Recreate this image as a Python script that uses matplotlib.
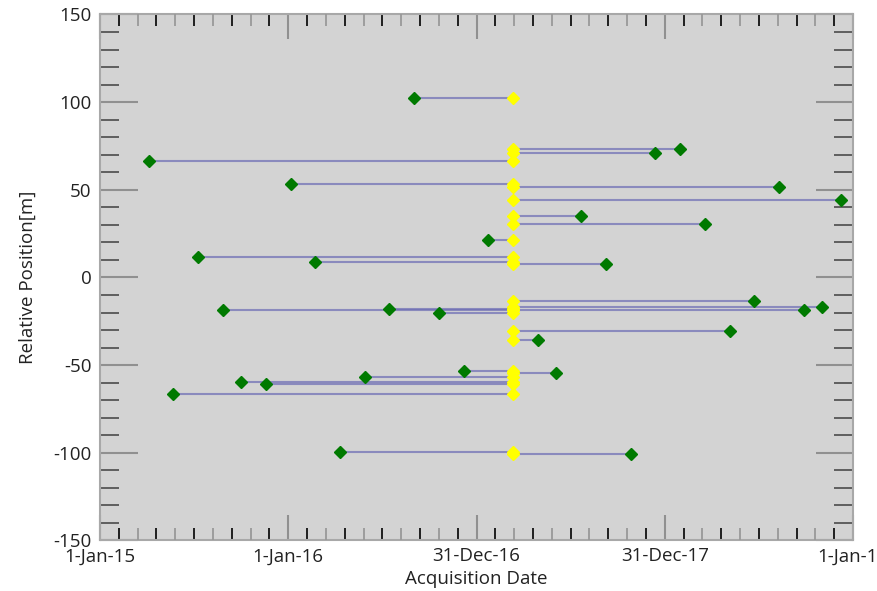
import numpy as np
import pandas as pd
import matplotlib
matplotlib.use('Agg')
import matplotlib.pyplot as plt
import matplotlib.dates as mdates
from matplotlib.ticker import FixedLocator, NullFormatter

plt.rcParams['font.family'] = ['Open Sans', 'DejaVu Sans']
plt.rcParams['axes.unicode_minus'] = False

# reference (master) acquisition, all pairs join to it
ref_date = '2017-03-12'

# secondary acquisitions and their relative position [m]
sec_dates = ['2016-09-02', '2018-01-30', '2017-12-13', '2015-04-06', '2016-01-06',
             '2018-08-10', '2018-12-08', '2017-07-23', '2018-03-19', '2017-01-22',
             '2015-07-10', '2016-02-23', '2017-09-09', '2018-06-23', '2016-07-15',
             '2018-11-02', '2015-08-27', '2018-09-28', '2016-10-19', '2018-05-07',
             '2017-04-30', '2016-12-07', '2017-06-04', '2016-05-29', '2015-10-02',
             '2015-11-19', '2015-05-22', '2016-04-11', '2017-10-27']
positions = [102.4, 73.3, 70.8, 66.6, 53.2,
             51.8, 44.0, 35.1, 30.7, 21.6,
             11.9, 9.0, 7.9, -13.6, -17.8,
             -16.7, -18.5, -18.7, -20.1, -30.3,
             -35.6, -53.2, -54.3, -56.8, -59.8,
             -60.6, -66.6, -99.5, -100.7]

tick_labels_fmt = '%-d-%b-%y'
fs = 13.5

sec = pd.to_datetime(sec_dates)
ref = pd.to_datetime([ref_date] * len(sec_dates))

fig = plt.figure(figsize=(8.77, 5.91), dpi=100)
ax = fig.add_axes([0.114, 0.0855, 0.8587, 0.89])
ax.set_facecolor('#d3d3d3')

for d0, d1, p in zip(sec, ref, positions):
    ax.plot([d0, d1], [p, p], color='#6c6cb4', lw=1.5, alpha=0.7, zorder=2)
ax.plot(ref, positions, 'D', color='#ffff00', ms=6.5, mec='#ffff00', zorder=3, ls='none')
ax.plot(sec, positions, 'D', color='#007a00', ms=6, mec='#007a00', zorder=4, ls='none')

# x axis: ticks every 365.25 days from 1-Jan-15
x0 = mdates.date2num(pd.Timestamp('2015-01-01'))
step = 365.25
ax.set_xlim(x0, x0 + 4 * step)
ax.set_ylim(-150, 150)
major = [x0 + k * step for k in range(5)]
odd = [x0 + k * step / 10 for k in range(40) if k % 2 == 1]
even = [x0 + k * step / 10 for k in range(40) if k % 2 == 0 and k % 10 != 0]
ax.xaxis.set_major_locator(FixedLocator(major))
ax.xaxis.set_major_formatter(mdates.DateFormatter(tick_labels_fmt))
ax.xaxis.set_minor_locator(FixedLocator(odd))
ax.yaxis.set_major_locator(FixedLocator(np.arange(-150, 151, 50)))
ax.yaxis.set_minor_locator(FixedLocator([v for v in range(-150, 151, 10) if v % 50]))

ax.tick_params(which='both', direction='in', top=True, right=True, labelsize=fs,
               labelcolor='#222222')
ax.tick_params(axis='x', which='major', length=18, width=1.5, color='#909090', pad=5)
ax.tick_params(axis='x', which='minor', length=8.5, width=1.3, color='#111111')
ax.tick_params(axis='y', which='major', length=27, width=1.5, color='#909090', pad=6)
ax.tick_params(axis='y', which='minor', length=13.5, width=1.3, color='#555555')
for s in ax.spines.values():
    s.set_color('#a8a8a8')
    s.set_linewidth(1.5)

# second set of short grey x ticks between the black ones
ax2 = fig.add_axes(ax.get_position(), frameon=False)
ax2.patch.set_visible(False)
ax2.set_xlim(ax.get_xlim())
ax2.xaxis.set_major_locator(FixedLocator(even))
ax2.xaxis.set_major_formatter(NullFormatter())
ax2.xaxis.set_minor_locator(FixedLocator([]))
ax2.set_yticks([])
ax2.tick_params(axis='x', which='major', direction='in', top=True, bottom=True,
                length=8.5, width=1.3, color='#999999')

ax.set_xlabel('Acquisition Date', fontsize=fs, color='#222222', labelpad=3)
ax.set_ylabel('Relative Position[m]', fontsize=fs, color='#222222', labelpad=12)

fig.savefig('out.png', dpi=100)
